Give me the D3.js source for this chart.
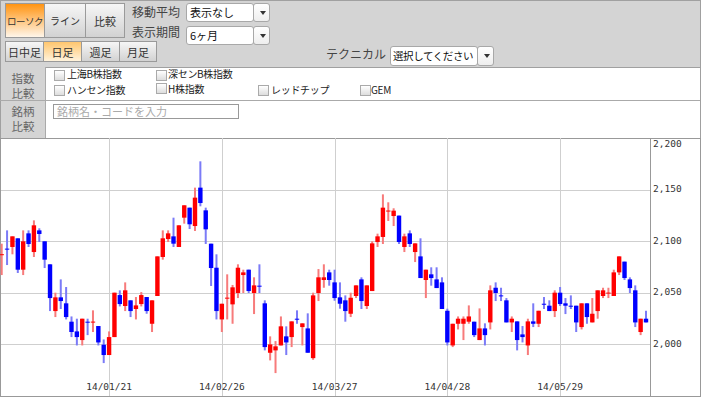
<!DOCTYPE html>
<html>
<head>
<meta charset="utf-8">
<script src="https://cdn.jsdelivr.net/npm/d3@7"></script>
<style>
body { margin: 0; background: #fff; font-family: "Noto Sans CJK JP", sans-serif; }
#page { position: relative; width: 701px; height: 399px; overflow: hidden; }
.a { position: absolute; box-sizing: border-box; white-space: nowrap; }
#head { left: 0; top: 0; width: 701px; height: 68px; background: #d4d4d4; border: 1px solid #a0a0a0; }
.btn { border: 1px solid #9a9a9a; background: linear-gradient(#f6f6f6, #d2d2d2); color: #333; font-size: 11px;
       display: flex; align-items: center; justify-content: center; }
.on1 { background: linear-gradient(#ff9412, #fff6ea); }
.on2 { background: linear-gradient(#ffc66e, #fff3dc); }
.lbl { font-size: 12px; color: #444; line-height: 14px; }
.sel { background: #fff; border: 1px solid #a8a8a8; border-radius: 3px; font-size: 11px; color: #111; padding-left: 3px; line-height: 17px; overflow: hidden; }
.arr { background: linear-gradient(#fff, #eee); border: 1px solid #a8a8a8; border-radius: 3px; }
.arr:after { content: ""; position: absolute; left: 6px; top: 7px; border-left: 3px solid transparent; border-right: 3px solid transparent; border-top: 4px solid #333; }
.cell { background: #d4d4d4; border-right: 1px solid #aaa; border-left: 1px solid #a0a0a0; }
.ct { color: #666; font-size: 11.5px; line-height: 12px; width: 46px; text-align: center; }
.cb { width: 11px; height: 11px; border: 1px solid #aaa; background: linear-gradient(#fff, #ddd); }
.cbl { font-size: 10px; color: #222; line-height: 10px; letter-spacing: -0.3px; }
#chart { left: 0; top: 0; }
</style>
</head>
<body>
<div id="page">
  <div class="a" id="head"></div>
  <div class="a btn on1" style="left:5px;top:3px;width:40px;height:35px;font-size:9.5px;letter-spacing:-0.5px;">ローソク</div>
  <div class="a btn" style="left:44px;top:3px;width:42px;height:35px;font-size:10px;">ライン</div>
  <div class="a btn" style="left:85px;top:3px;width:40px;height:35px;">比較</div>
  <div class="a btn" style="left:5px;top:41px;width:39px;height:21px;">日中足</div>
  <div class="a btn on2" style="left:43px;top:41px;width:39px;height:21px;">日足</div>
  <div class="a btn" style="left:81px;top:41px;width:39px;height:21px;">週足</div>
  <div class="a btn" style="left:119px;top:41px;width:38px;height:21px;">月足</div>
  <div class="a lbl" style="left:132px;top:5px;">移動平均</div>
  <div class="a lbl" style="left:132px;top:25px;">表示期間</div>
  <div class="a sel" style="left:186px;top:3px;width:68px;height:19px;">表示なし</div>
  <div class="a arr" style="left:253px;top:3px;width:17px;height:19px;"></div>
  <div class="a sel" style="left:186px;top:26px;width:68px;height:19px;">6ヶ月</div>
  <div class="a arr" style="left:253px;top:26px;width:17px;height:19px;"></div>
  <div class="a lbl" style="left:326px;top:47px;">テクニカル</div>
  <div class="a sel" style="left:390px;top:46px;width:88px;height:20px;font-size:10.5px;letter-spacing:-0.4px;padding-left:2px;">選択してください</div>
  <div class="a arr" style="left:477px;top:46px;width:17px;height:20px;"></div>

  <div class="a cell" style="left:0;top:67px;width:46px;height:34px;"></div>
  <div class="a cell" style="left:0;top:100px;width:46px;height:38px;"></div>
  <div class="a ct" style="left:0;top:72px;">指数</div>
  <div class="a ct" style="left:0;top:87px;">比較</div>
  <div class="a ct" style="left:0;top:105px;">銘柄</div>
  <div class="a ct" style="left:0;top:120px;">比較</div>
  <div class="a" style="left:0;top:100px;width:701px;height:1px;background:#aaa;"></div>
  <div class="a" style="left:700px;top:67px;width:1px;height:72px;background:#a0a0a0;"></div>

  <div class="a cb" style="left:54px;top:70px;"></div><div class="a cbl" style="left:67px;top:69px;">上海B株指数</div>
  <div class="a cb" style="left:156px;top:70px;"></div><div class="a cbl" style="left:168px;top:69px;">深センB株指数</div>
  <div class="a cb" style="left:54px;top:85px;"></div><div class="a cbl" style="left:67px;top:85px;">ハンセン指数</div>
  <div class="a cb" style="left:156px;top:83px;"></div><div class="a cbl" style="left:168px;top:84px;">H株指数</div>
  <div class="a cb" style="left:258px;top:85px;"></div><div class="a cbl" style="left:271px;top:85px;">レッドチップ</div>
  <div class="a cb" style="left:360px;top:85px;"></div><div class="a cbl" style="left:371px;top:85px;">GEM</div>
  <div class="a" style="left:53px;top:104px;width:186px;height:15px;border:1px solid #999;background:#fff;font-size:11px;color:#aaa;line-height:13px;padding-left:3px;">銘柄名・コードを入力</div>

  <svg class="a" id="chart" width="701" height="399"></svg>
</div>
<script>
// daily candles, 6 months (index 0 = first trading day shown)
const opens = [2087.3,2092.8,2094.4,2102.8,2072.4,2107.6,2089.5,2110.5,2099.9,2077.6,
  2032.3,2045.6,2039.8,2022.0,2012.6,2004.2,2022.0,2022.0,2017.8,1999.7,
  1989.7,2007.1,2047.8,2037.2,2042.7,2034.3,2039.1,2045.9,2020.0,2046.9,
  2084.7,2102.1,2104.7,2094.4,2122.8,2132.5,2114.7,2151.9,2129.9,2097.6,
  2074.3,2024.2,2045.2,2038.8,2049.8,2067.2,2072.4,2049.8,2056.9,2039.8,
  1991.9,1994.2,1999.0,2007.8,2007.1,2024.9,2016.8,2015.5,1986.7,2049.8,
  2062.4,2069.8,2060.1,2045.6,2042.7,2029.7,2046.9,2063.0,2037.2,2051.7,
  2099.2,2104.1,2129.6,2124.4,2124.8,2094.4,2107.6,2089.5,2085.3,2062.4,
  2067.9,2063.0,2060.1,2032.6,1999.0,2020.0,2020.0,2022.0,2022.0,2004.2,
  2015.5,2021.3,2054.9,2047.5,2042.7,2021.3,2022.3,2009.7,1999.0,2022.3,
  2020.0,2039.4,2037.5,2032.3,2050.1,2039.8,2037.5,2037.5,2016.8,2039.8,
  2021.3,2032.3,2046.9,2050.1,2046.9,2069.8,2080.2,2063.0,2052.4,2012.0,2024.9];
const highs = [2097.6,2110.5,2104.7,2102.8,2110.5,2110.5,2120.2,2112.5,2099.9,2077.6,
  2050.1,2063.0,2055.6,2027.1,2024.9,2024.9,2024.9,2033.0,2017.8,2004.8,
  2012.6,2050.1,2052.4,2060.1,2042.7,2045.9,2050.7,2045.9,2042.7,2085.3,
  2110.5,2110.5,2122.8,2115.4,2134.8,2132.5,2151.9,2177.4,2132.5,2097.6,
  2087.3,2039.4,2067.9,2057.6,2077.6,2072.4,2072.4,2065.0,2077.6,2042.7,
  2007.8,2003.2,2027.1,2017.5,2022.3,2033.0,2020.4,2030.1,2050.1,2073.0,
  2077.6,2072.4,2072.4,2060.1,2047.5,2050.1,2057.2,2065.0,2057.2,2099.9,
  2107.3,2145.4,2137.7,2131.9,2124.8,2107.3,2110.5,2097.9,2102.8,2072.4,
  2074.7,2074.7,2065.0,2034.6,2020.0,2027.1,2027.1,2037.8,2022.0,2034.9,
  2020.4,2057.2,2060.1,2054.9,2044.9,2027.1,2022.3,2017.8,2024.9,2039.8,
  2032.6,2045.9,2042.7,2052.4,2055.6,2044.9,2047.5,2037.5,2039.8,2039.8,
  2044.9,2052.4,2054.9,2054.9,2072.4,2085.3,2080.2,2065.0,2057.2,2024.9,2032.6];
const lows = [2067.2,2076.9,2087.3,2069.2,2067.2,2094.4,2084.7,2099.2,2074.0,2032.3,
  2026.5,2034.3,2024.2,2007.1,1999.0,1999.0,2009.0,2012.0,1999.0,1981.9,
  1989.7,2007.1,2036.8,2032.3,2026.5,2024.2,2036.8,2029.7,2012.0,2046.9,
  2082.1,2099.2,2094.4,2094.4,2117.0,2111.8,2109.9,2133.8,2097.3,2056.6,
  2024.2,2012.0,2024.2,2020.0,2044.9,2049.8,2049.8,2029.4,2049.8,1994.2,
  1984.5,1972.2,1999.0,1989.7,1997.4,2020.0,1999.0,1991.9,1985.1,2042.0,
  2054.9,2056.9,2042.3,2034.6,2022.0,2026.5,2044.9,2034.3,2034.3,2051.7,
  2094.4,2097.3,2119.6,2114.7,2097.3,2089.5,2094.4,2079.8,2064.3,2044.9,
  2056.9,2054.6,2034.3,1999.0,1997.4,2014.5,2004.2,2020.0,2007.1,2004.2,
  1999.0,2014.5,2042.0,2042.0,2021.3,2012.0,1994.2,2001.9,1989.7,2016.8,
  2016.8,2034.3,2032.3,2026.5,2037.2,2029.4,2034.3,2012.0,2014.5,2020.0,
  2021.3,2024.9,2044.9,2044.9,2046.9,2067.2,2062.4,2049.8,2016.8,2009.0,2021.3];
const closes = [2087.4,2092.7,2104.7,2072.4,2099.9,2097.3,2115.4,2107.0,2082.1,2044.9,
  2045.6,2042.0,2026.5,2012.0,2007.1,2024.9,2021.9,2022.1,2001.9,1989.7,
  2007.1,2050.1,2039.1,2052.4,2032.3,2037.8,2047.8,2032.3,2042.7,2085.3,
  2102.8,2107.6,2097.6,2115.4,2134.8,2116.4,2142.2,2137.0,2111.5,2074.0,
  2032.3,2039.4,2045.3,2055.3,2074.3,2069.8,2051.7,2057.2,2056.8,1997.4,
  2000.0,1998.1,2017.5,2001.9,2022.3,2024.8,2020.4,1991.9,2047.5,2065.0,
  2065.0,2062.4,2044.9,2039.4,2032.3,2045.2,2057.2,2042.0,2057.2,2097.9,
  2104.7,2132.5,2129.7,2129.6,2099.2,2104.7,2097.3,2097.9,2064.3,2072.4,
  2064.3,2054.6,2034.3,2001.9,2020.0,2024.9,2024.9,2027.1,2009.0,2015.5,
  2009.0,2052.4,2049.8,2047.4,2021.3,2024.9,2004.2,2007.1,2022.3,2020.0,
  2032.6,2039.3,2032.3,2050.1,2039.1,2037.5,2037.4,2021.3,2039.8,2026.5,
  2029.7,2052.4,2052.4,2050.2,2069.8,2085.3,2064.3,2054.6,2021.3,2024.9,2021.3];

const dateLabels = ["14/01/21", "14/02/26", "14/03/27", "14/04/28", "14/05/29"];
const dateIndex = [20, 41, 62, 83, 104];
const priceTicks = [2000, 2050, 2100, 2150, 2200];

const plot = {left: 1, right: 650, top: 138, bottom: 396};

const svg = d3.select('#chart');
const x = d3.scaleLinear().domain([0, opens.length - 1]).range([1.7, 646]);
const y = d3.scaleLinear().domain([1950, 2200]).range([plot.bottom, plot.top]);

const candles = d3.range(opens.length).map((i) => ({
  i: i, o: opens[i], h: highs[i], l: lows[i], c: closes[i], up: closes[i] >= opens[i]
}));

// chart frame background
svg.append('rect')
    .attr('x', 0.5).attr('y', plot.top + 0.5)
    .attr('width', 700).attr('height', plot.bottom - plot.top)
    .attr('fill', '#fff').attr('stroke', '#999');

// grid
const grid = svg.append('g').attr('shape-rendering', 'crispEdges').attr('stroke', '#cfcfcf');
grid.selectAll('.hg').data(priceTicks.filter((v) => v < 2200)).enter().append('line')
    .attr('x1', plot.left).attr('x2', plot.right)
    .attr('y1', (d) => Math.round(y(d)) + 0.5).attr('y2', (d) => Math.round(y(d)) + 0.5);
grid.selectAll('.vg').data(dateIndex).enter().append('line')
    .attr('x1', (d) => Math.round(x(d)) + 0.5).attr('x2', (d) => Math.round(x(d)) + 0.5)
    .attr('y1', plot.top).attr('y2', plot.bottom);

svg.append('line')
    .attr('x1', plot.right + 0.5).attr('x2', plot.right + 0.5)
    .attr('y1', plot.top).attr('y2', plot.bottom)
    .attr('stroke', '#999').attr('shape-rendering', 'crispEdges');

// candles
const cg = svg.append('g');
cg.selectAll('.wick').data(candles).enter().append('rect')
    .attr('x', (d) => x(d.i) - 1)
    .attr('width', 2)
    .attr('y', (d) => y(d.h))
    .attr('height', (d) => Math.max(1, y(d.l) - y(d.h)))
    .attr('fill', (d) => d.up ? '#f77b7b' : '#7b7bf7');
cg.selectAll('.body').data(candles).enter().append('rect')
    .attr('x', (d) => x(d.i) - 2.2)
    .attr('width', 4.4)
    .attr('y', (d) => y(Math.max(d.o, d.c)))
    .attr('height', (d) => Math.max(1, Math.abs(y(d.o) - y(d.c))))
    .attr('fill', (d) => d.up ? '#ff0000' : '#0000ff');

// axis labels
const fmt = d3.format(',');
svg.selectAll('.yl').data(priceTicks).enter().append('text')
    .attr('x', 653)
    .attr('y', (d) => Math.max(y(d) - 1, 144))
    .attr('dy', '0.35em')
    .attr('font-family', '"DejaVu Sans Mono", monospace')
    .attr('font-size', '9.5px')
    .attr('fill', '#333')
    .text((d) => fmt(d));

svg.selectAll('.xl').data(dateLabels).enter().append('text')
    .attr('x', (d, k) => x(dateIndex[k]))
    .attr('y', 387)
    .attr('dy', '0.35em')
    .attr('text-anchor', 'middle')
    .attr('font-family', '"DejaVu Sans Mono", monospace')
    .attr('font-size', '9.5px')
    .attr('fill', '#333')
    .text((d) => d);
</script>
</body>
</html>
